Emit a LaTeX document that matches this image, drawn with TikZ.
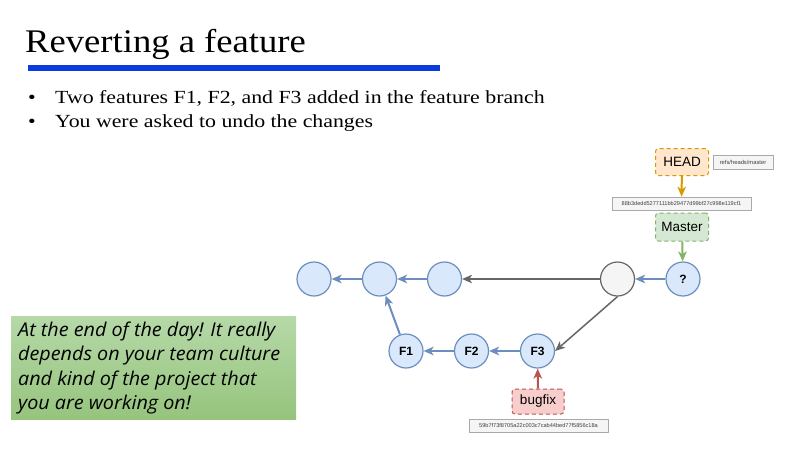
\documentclass[tikz,border=0pt]{standalone}
\usepackage{fontspec}
\setmainfont{Liberation Serif}
\newfontfamily\titlefont[FakeStretch=1.11]{Liberation Serif}
\newfontfamily\bodyfont[FakeStretch=1.18]{Liberation Serif}
\newfontfamily\diofont{Liberation Sans}
\newfontfamily\notefont[FakeStretch=1.04]{Open Sans}
\usetikzlibrary{arrows.meta}

\definecolor{commitfill}{HTML}{DAE8FC}
\definecolor{commitline}{HTML}{6C8EBF}
\definecolor{grayfill}{HTML}{F5F5F5}
\definecolor{grayline}{HTML}{666666}
\definecolor{headfill}{HTML}{FFE6CC}
\definecolor{headline}{HTML}{D79B00}
\definecolor{masterfill}{HTML}{D5E8D4}
\definecolor{masterline}{HTML}{82B366}
\definecolor{bugfill}{HTML}{F8CECC}
\definecolor{bugline}{HTML}{B85450}
\definecolor{titlebar}{HTML}{0A3CE0}
\definecolor{notetop}{HTML}{B6D9A8}
\definecolor{notebottom}{HTML}{96C47D}
\definecolor{hashline}{HTML}{AAAAAA}

\tikzset{
  x=1pt, y=-1pt,
  commit/.style={circle, minimum size=34pt, inner sep=0pt, line width=1.2pt,
    draw=commitline, fill=commitfill, text=black,
    font=\diofont\bfseries\fontsize{12}{12}\selectfont},
  basecommit/.style={commit, draw=grayline, fill=grayfill},
  tip/.style={-{Stealth[length=10pt,width=8.5pt,inset=2.8pt]}},
  flow/.style={tip, line width=2pt, draw=commitline},
  grayflow/.style={tip, line width=1.5pt, draw=grayline},
  reflabel/.style={rectangle, rounded corners=3pt, dashed, dash pattern=on 4pt off 3pt,
    line width=1pt, inner sep=0pt, font=\diofont\fontsize{13.5}{13.5}\selectfont},
  hashbox/.style={rectangle, draw=hashline, fill=grayfill, line width=0.6pt,
    minimum width=139pt, minimum height=13pt, inner sep=0pt,
    text=black!75, font=\diofont\fontsize{5.6}{5.6}\selectfont},
  bullettext/.style={anchor=base west, inner sep=0pt, font=\bodyfont\fontsize{18.5}{18.5}\selectfont},
}

\begin{document}
\begin{tikzpicture}
\useasboundingbox (0,0) rectangle (800,450);
\fill[white] (0,0) rectangle (800,450);

% heading
\node[anchor=base west, inner sep=0pt, font=\titlefont\fontsize{33}{33}\selectfont] (title) at (25,52) {Reverting a feature};
\fill[titlebar] (28,65) rectangle (440,71);

% bullet list
\node[bullettext] (b1) at (28,103) {•};
\node[bullettext] (t1) at (55,103) {Two features F1, F2, and F3 added in the feature branch};
\node[bullettext] (b2) at (28,127) {•};
\node[bullettext] (t2) at (55,127) {You were asked to undo the changes};

% note box (base anchor sits on the last line's baseline)
\shade[top color=notetop, bottom color=notebottom] (11,316) rectangle (296,419);
\node[anchor=base west, inner sep=0pt, align=left,
  font=\notefont\itshape\fontsize{19}{24.5}\selectfont] (note) at (18,409.5)
  {At the end of the day! It really\\depends on your team culture\\and kind of the project that\\you are working on!};

% commits on the main line
\node[commit] (c1) at (314,279) {};
\node[commit] (c2) at (379.5,279) {};
\node[commit] (c3) at (444.5,279) {};
\node[basecommit] (g) at (617.5,279) {};
\node[commit] (q) at (683,279) {?};

% feature commits
\node[commit] (f1) at (406,351) {F1};
\node[commit] (f2) at (471.5,351) {F2};
\node[commit] (f3) at (537.5,351) {F3};

% references
\node[reflabel, draw=headline, fill=headfill, minimum width=53pt, minimum height=27pt] (head) at (682,162) {HEAD};
\node[rectangle, draw=hashline, fill=grayfill, line width=0.6pt, minimum width=60pt, minimum height=14pt,
  inner sep=0pt, text=black!75, font=\diofont\fontsize{5.8}{5.8}\selectfont] (refs) at (743,162) {refs/heads/master};
\node[hashbox] (h1) at (681.5,203.5) {88b3dedd5277111bb29477d99bf27c998e119cf1};
\node[reflabel, draw=masterline, fill=masterfill, minimum width=53pt, minimum height=28pt] (master) at (682,227) {Master};
\node[reflabel, draw=bugline, fill=bugfill, minimum width=52pt, minimum height=25pt] (bug) at (538,401.5) {bugfix};
\node[hashbox] (h2) at (538.5,425.5) {59b7f73f8705a22c003c7cab44bed77f5856c18a};

% history edges
\draw[flow] (q) -- (g);
\draw[grayflow] (g) -- (c3);
\draw[flow] (c3) -- (c2);
\draw[flow] (c2) -- (c1);
\draw[flow] (f1) -- (c2);
\draw[flow] (f2) -- (f1);
\draw[flow] (f3) -- (f2);
\draw[grayflow] (g.south) -- (f3.east);

% reference pointers
\draw[tip, line width=2pt, draw=headline] (head) -- (h1);
\draw[tip, line width=2pt, draw=masterline] (master) -- (q);
\draw[tip, line width=2pt, draw=bugline] (bug) -- (f3);
\end{tikzpicture}
\end{document}
